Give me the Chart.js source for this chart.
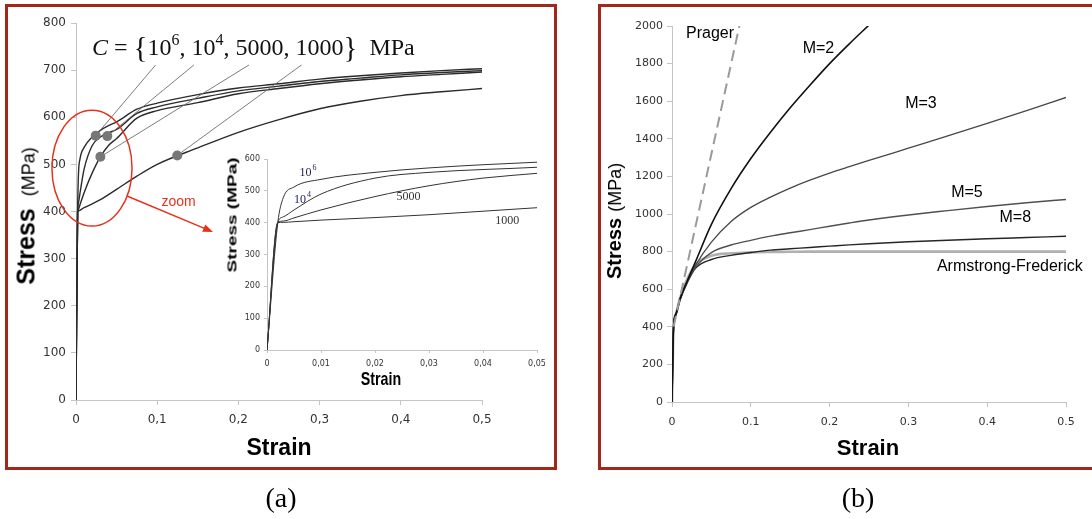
<!DOCTYPE html>
<html>
<head>
<meta charset="utf-8">
<script src="https://cdn.jsdelivr.net/npm/chart.js@4.4.1/dist/chart.umd.min.js"></script>
<style>
  body { margin: 0; width: 1092px; height: 519px; background: #fff; position: relative; overflow: hidden; font-family: "Liberation Sans", Arial, sans-serif; color: #000; }
  .panel { position: absolute; border: 3px solid #a3261a; box-sizing: border-box; }
  #panel-a { left: 5px; top: 4px; width: 552px; height: 466px; }
  #panel-b { left: 598px; top: 4px; width: 510px; height: 466px; }
  canvas { position: absolute; }
  #chart-a { left: 10px; top: 8px; }
  #chart-inset { left: 222px; top: 150px; }
  #chart-b { left: 603px; top: 8px; }
  .lbl { position: absolute; white-space: nowrap; line-height: 1; transform: translate(-50%, -50%); }
  .rot { transform: translate(-50%, -50%) rotate(-90deg); }
  .cap { font-family: "Liberation Serif", "Times New Roman", serif; font-size: 28px; }
</style>
</head>
<body>
<div class="panel" id="panel-a"></div>
<div class="panel" id="panel-b"></div>

<canvas id="chart-a" width="544" height="456"></canvas>
<canvas id="chart-inset" width="330" height="240"></canvas>
<canvas id="chart-b" width="489" height="457"></canvas>

<div class="lbl rot" style="left:26px;top:216px"><b style="font-size:25px">Stress</b><span style="font-size:18px;margin-left:12px">(MPa)</span></div>
<div class="lbl" style="left:279px;top:447px"><b style="font-size:23px">Strain</b></div>
<div class="lbl" style="left:232px;top:215px;transform:translate(-50%,-50%) rotate(-90deg) scaleY(0.72)"><b style="font-size:19px">Stress (MPa)</b></div>
<div class="lbl" style="left:381px;top:378px;transform:translate(-50%,-50%) scaleX(0.75)"><b style="font-size:19px">Strain</b></div>
<div class="lbl rot" style="left:614px;top:221px"><b style="font-size:20px">Stress</b><span style="font-size:18px;margin-left:6px">(MPa)</span></div>
<div class="lbl" style="left:868px;top:448px"><b style="font-size:22px">Strain</b></div>
<div class="lbl cap" style="left:281px;top:498px">(a)</div>
<div class="lbl cap" style="left:858px;top:498px">(b)</div>

<script>
// (a) kinematic hardening for C = 1e6, 1e4, 5000, 1000 MPa
const strainA = [0, 0.002, 0.003, 0.005, 0.01, 0.02, 0.03, 0.04, 0.05, 0.075, 0.1, 0.15, 0.2, 0.25, 0.3, 0.35, 0.4, 0.45, 0.5]
const stressC1e6 = [0, 400, 478, 512, 536, 558, 572, 582, 590, 617, 630, 648, 662, 671, 681, 688, 694, 699, 703]
const stressC1e4 = [0, 400, 418, 440, 490, 540, 558, 567, 574, 608, 622, 640, 656, 666, 676, 683, 690, 695, 699]
const stressC5000 = [0, 400, 405, 415, 440, 482, 516, 540, 555, 598, 614, 631, 650, 661, 671, 679, 686, 691, 696]
const stressC1000 = [0, 400, 401, 403, 408, 416, 425, 436, 447, 475, 500, 535, 568, 595, 618, 634, 646, 654, 661]

// marked points and leader lines up to the formula
const dotStrain = [0.0243, 0.0386, 0.030, 0.1247]
const dotStress = [561, 560, 516, 519]
const leaderStrain = [0.0981, 0.1452, 0.2131, 0.2778]
const leaderStress = 711

// (b) nonlinear kinematic hardening, M = 2, 3, 5, 8, Armstrong-Frederick, Prager
const strainB = [0, 0.002, 0.005, 0.01, 0.02, 0.03, 0.05, 0.075, 0.1, 0.125, 0.15, 0.175, 0.2, 0.225, 0.25, 0.3, 0.35, 0.4, 0.45, 0.5]
const stressM2 = [0, 400, 468, 545, 650, 748, 945, 1135, 1295, 1435, 1565, 1685, 1800, 1905, 2005]
const stressM3 = [0, 400, 467, 545, 645, 728, 850, 960, 1035, 1090, 1138, 1180, 1218, 1252, 1285, 1350, 1415, 1482, 1550, 1620]
const stressM5 = [0, 400, 466, 545, 648, 718, 795, 835, 860, 882, 900, 917, 935, 952, 968, 995, 1018, 1040, 1060, 1077]
const stressM8 = [0, 400, 464, 540, 640, 712, 758, 780, 795, 808, 815, 822, 829, 836, 842, 852, 860, 868, 875, 882]
const stressAF = [0, 400, 470, 550, 660, 730, 778, 791, 796, 798, 799, 800, 800, 800, 800, 800, 800, 800, 800, 800]
const strainPrager = [0.002, 0.0855]
const stressPrager = [400, 2000]

Chart.defaults.animation = false
Chart.defaults.responsive = false
Chart.defaults.plugins.legend.display = false
Chart.defaults.plugins.tooltip.enabled = false
Chart.defaults.events = []

const toPoints = (xs, ys) => ys.map((v, i) => ({ x: xs[i], y: v }))
const fmt = (sep, digits) => (v) => (v === 0 ? '0' : v.toFixed(digits).replace('.', sep))

const curve = (xs, ys, color, width, extra) => Object.assign({
  data: toPoints(xs, ys),
  showLine: true,
  pointRadius: 0,
  borderColor: color,
  borderWidth: width,
  cubicInterpolationMode: 'monotone'
}, extra || {})

const axis = (min, max, step, fmtFn, size, tickLen, pad, fitKey, fitVal) => ({
  type: 'linear',
  min: min,
  max: max,
  afterFit: (s) => { s[fitKey] = fitVal },
  ticks: { stepSize: step, callback: fmtFn, color: '#333', padding: pad, font: { family: 'DejaVu Sans', size: size }, autoSkip: false, maxRotation: 0 },
  grid: { drawOnChartArea: false, drawTicks: true, tickLength: tickLen, color: '#c4c4c4' },
  border: { display: true, color: '#c4c4c4' }
})

// text drawn at data coordinates, optional superscript
const textLabels = {
  id: 'textLabels',
  afterDatasetsDraw(chart, args, opts) {
    const { ctx, scales: { x, y } } = chart
    ctx.save()
    ctx.textBaseline = 'middle'
    opts.items.forEach((it) => {
      ctx.fillStyle = it.color || '#000'
      ctx.font = it.font
      const w = ctx.measureText(it.text).width
      let supW = 0
      if (it.sup) {
        ctx.font = it.supFont
        supW = ctx.measureText(it.sup).width
      }
      let px = x.getPixelForValue(it.x)
      const py = y.getPixelForValue(it.y)
      if (it.align !== 'left') px -= (w + supW) / 2
      ctx.textAlign = 'left'
      ctx.font = it.font
      ctx.fillText(it.text, px, py)
      if (it.sup) {
        ctx.font = it.supFont
        ctx.fillText(it.sup, px + w + 1, py - it.supRaise)
      }
    })
    ctx.restore()
  }
}

// red zoom ellipse, arrow and the C formula on chart (a)
const annotateA = {
  id: 'annotateA',
  afterDatasetsDraw(chart) {
    const { ctx, scales: { x, y } } = chart
    ctx.save()
    ctx.strokeStyle = '#e5321d'
    ctx.fillStyle = '#e5321d'
    ctx.lineWidth = 1.5
    const cx = x.getPixelForValue(0.0197)
    const cy = y.getPixelForValue(492)
    const rx = x.getPixelForValue(0.0197 + 0.0493) - cx
    const ry = cy - y.getPixelForValue(492 + 123)
    ctx.beginPath()
    ctx.ellipse(cx, cy, rx, ry, 0, 0, Math.PI * 2)
    ctx.stroke()

    const x0 = x.getPixelForValue(0.0628), y0 = y.getPixelForValue(433)
    const x1 = x.getPixelForValue(0.1687), y1 = y.getPixelForValue(356.5)
    const ang = Math.atan2(y1 - y0, x1 - x0)
    ctx.beginPath()
    ctx.moveTo(x0, y0)
    ctx.lineTo(x1 - 8 * Math.cos(ang), y1 - 8 * Math.sin(ang))
    ctx.stroke()
    ctx.beginPath()
    ctx.moveTo(x1, y1)
    ctx.lineTo(x1 - 10 * Math.cos(ang) + 4 * Math.sin(ang), y1 - 10 * Math.sin(ang) - 4 * Math.cos(ang))
    ctx.lineTo(x1 - 10 * Math.cos(ang) - 4 * Math.sin(ang), y1 - 10 * Math.sin(ang) + 4 * Math.cos(ang))
    ctx.closePath()
    ctx.fill()

    ctx.font = '14px "Liberation Sans"'
    ctx.textAlign = 'center'
    ctx.textBaseline = 'middle'
    ctx.fillText('zoom', x.getPixelForValue(0.1264), y.getPixelForValue(420))

    // C = {10^6, 10^4, 5000, 1000} MPa
    const serif = '"Liberation Serif"'
    const parts = [
      ['C', 'italic 24px ' + serif, 0],
      [' = ', '24px ' + serif, 0],
      ['{', '29px ' + serif, 2],
      ['10', '24px ' + serif, 0],
      ['6', '16px ' + serif, -10],
      [', 10', '24px ' + serif, 0],
      ['4', '16px ' + serif, -10],
      [', 5000, 1000', '24px ' + serif, 0],
      ['}', '29px ' + serif, 2],
      ['  MPa', '24px ' + serif, 0]
    ]
    ctx.fillStyle = '#111'
    ctx.textAlign = 'left'
    ctx.textBaseline = 'alphabetic'
    let fx = x.getPixelForValue(0.0197)
    const base = y.getPixelForValue(732)
    parts.forEach(([t, f, dy]) => {
      ctx.font = f
      ctx.fillText(t, fx, base + dy)
      fx += ctx.measureText(t).width
    })
    ctx.restore()
  }
}

// CHART (a)
const curvesA = [stressC1e6, stressC1e4, stressC5000, stressC1000]
new Chart(document.getElementById('chart-a'), {
  type: 'scatter',
  data: {
    datasets: [
      { data: toPoints(dotStrain, dotStress), pointRadius: 5, pointBackgroundColor: '#777', pointBorderWidth: 0, showLine: false },
      ...dotStrain.map((sx, i) => ({
        data: [{ x: sx, y: dotStress[i] }, { x: leaderStrain[i], y: leaderStress }],
        showLine: true, pointRadius: 0, borderColor: '#6e6e6e', borderWidth: 0.9
      })),
      ...curvesA.map((ys) => curve(strainA, ys, '#2b2b2b', 1.4))
    ]
  },
  options: {
    layout: { padding: { left: 0, top: 15, right: 72, bottom: 0 } },
    scales: {
      x: axis(0, 0.5, 0.1, fmt(',', 1), 12, 5, 8, 'height', 64),
      y: axis(0, 800, 100, (v) => v, 12, 5, 5, 'width', 66)
    }
  },
  plugins: [annotateA]
})

// CHART (a) inset, first 5 % of strain
new Chart(document.getElementById('chart-inset'), {
  type: 'scatter',
  data: {
    datasets: curvesA.map((ys) => curve(strainA, ys, '#333', 1))
  },
  options: {
    layout: { padding: { left: 0, top: 9, right: 15, bottom: 0 } },
    scales: {
      x: axis(0, 0.05, 0.01, fmt(',', 2), 8, 3, 6, 'height', 40),
      y: axis(0, 600, 100, (v) => v, 8, 3, 4, 'width', 45)
    },
    plugins: {
      textLabels: {
        items: [
          { text: '10', sup: '6', x: 0.0075, y: 556, font: '12px "Liberation Serif"', supFont: '8px "Liberation Serif"', supRaise: 5, color: '#22224e' },
          { text: '10', sup: '4', x: 0.0065, y: 471, font: '12px "Liberation Serif"', supFont: '8px "Liberation Serif"', supRaise: 5, color: '#1c1c66' },
          { text: '5000', x: 0.0262, y: 482, font: '12px "Liberation Serif"', color: '#333' },
          { text: '1000', x: 0.0445, y: 405, font: '12px "Liberation Serif"', color: '#333' }
        ]
      }
    }
  },
  plugins: [textLabels]
})

// CHART (b)
new Chart(document.getElementById('chart-b'), {
  type: 'scatter',
  data: {
    datasets: [
      curve(strainPrager, stressPrager, '#9a9a9a', 2, { borderDash: [11, 6], cubicInterpolationMode: 'default' }),
      curve(strainB, stressM2, '#111', 1.6),
      curve(strainB, stressM3, '#474747', 1.3),
      curve(strainB, stressM5, '#505050', 1.4),
      curve(strainB, stressM8, '#262626', 1.4),
      curve(strainB, stressAF, '#b0b0b0', 2.6)
    ]
  },
  options: {
    layout: { padding: { left: 0, top: 18, right: 26, bottom: 0 } },
    scales: {
      x: axis(0, 0.5, 0.1, fmt('.', 1), 11, 5, 9, 'height', 63),
      y: axis(0, 2000, 200, (v) => v, 11, 5, 4, 'width', 69)
    },
    plugins: {
      textLabels: {
        items: [
          { text: 'Prager', x: 0.0483, y: 1957, font: '16px "Liberation Sans"' },
          { text: 'M=2', x: 0.1858, y: 1881, font: '16px "Liberation Sans"' },
          { text: 'M=3', x: 0.3159, y: 1589, font: '16px "Liberation Sans"' },
          { text: 'M=5', x: 0.3743, y: 1113, font: '16px "Liberation Sans"' },
          { text: 'M=8', x: 0.4356, y: 980, font: '16px "Liberation Sans"' },
          { text: 'Armstrong-Frederick', x: 0.3362, y: 718, font: '16px "Liberation Sans"', align: 'left' }
        ]
      }
    }
  },
  plugins: [textLabels]
})
</script>
</body>
</html>
